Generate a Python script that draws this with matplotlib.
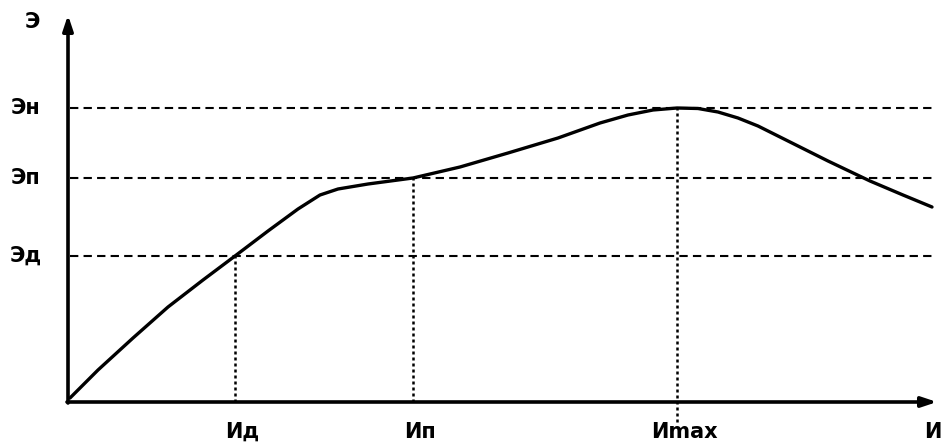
import matplotlib
matplotlib.use("Agg")
import matplotlib.pyplot as plt

# curve points (x, y), units: offset from origin
curve_x = [2, 30, 65, 100, 135, 167, 200, 230, 252, 270, 300, 345, 392, 440,
           490, 532, 560, 585, 609, 630, 650, 670, 690, 710, 732, 760,
           802, 835, 864]
curve_y = [4, 32, 64, 95, 122, 146, 171, 193, 207, 213, 218, 224, 235, 249,
           264, 279, 287, 292, 294, 293.5, 290, 284, 276, 266, 255, 241,
           221, 207, 195]

# marked levels
levels_y = [294, 224, 146]
levels_y_lab = ["Эн", "Эп", "Эд"]
marks_x = [167, 345, 609]
marks_x_top = [146, 224, 294]
marks_x_lab = ["Ид", "Ип", "Иmax"]

fig = plt.figure(figsize=(9.45, 4.43), dpi=100)
ax = fig.add_axes([0, 0, 1, 1])
ax.set_xlim(-68, 877)
ax.set_ylim(-41, 402)
ax.axis("off")

fs = 15

# axes with arrows
ax.annotate("", xy=(869, 0), xytext=(-1, 0),
            arrowprops=dict(arrowstyle="-|>,head_length=0.9,head_width=0.3",
                            lw=2.6, color="black", shrinkA=0, shrinkB=0))
ax.annotate("", xy=(0, 387), xytext=(0, -1),
            arrowprops=dict(arrowstyle="-|>,head_length=0.9,head_width=0.3",
                            lw=2.6, color="black", shrinkA=0, shrinkB=0))

# dashed levels
for y, lab in zip(levels_y, levels_y_lab):
    ax.plot([2, 867], [y, y], color="black", lw=1.5, ls=(0, (4, 2.5)))
    ax.text(-42, y, lab, ha="center", va="center", fontsize=fs,
            fontweight="bold")

# dotted verticals
for x, top, lab in zip(marks_x, marks_x_top, marks_x_lab):
    bottom = -20 if lab == "Иmax" else 0
    ax.plot([x, x], [bottom, top], color="black", lw=1.8, ls=(0, (1.2, 1.2)))
    ax.text(x + 7, -30, lab, ha="center", va="center", fontsize=fs,
            fontweight="bold")

ax.text(-36, 380, "Э", ha="center", va="center", fontsize=fs, fontweight="bold")
ax.text(865, -30, "И", ha="center", va="center", fontsize=fs, fontweight="bold")

# curve
ax.plot(curve_x, curve_y, color="black", lw=2.4, solid_capstyle="round",
        solid_joinstyle="round")

fig.savefig("out.png", dpi=100)
